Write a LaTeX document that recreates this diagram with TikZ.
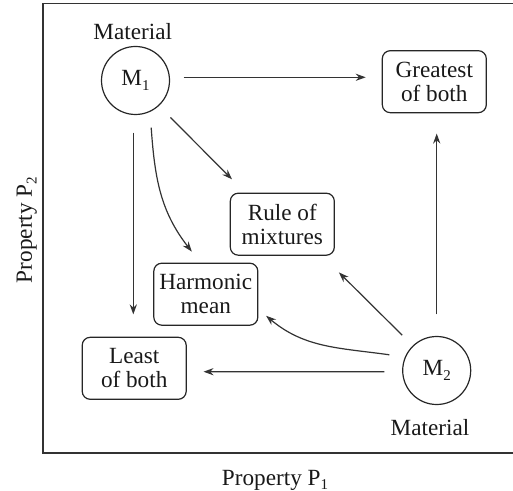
\documentclass[tikz,border=0pt]{standalone}
\usepackage{fontspec}
\setmainfont{Liberation Serif}
\usetikzlibrary{arrows.meta}
\newcommand{\sbs}[1]{\raisebox{-2.3pt}{\fontsize{7.5}{7.5}\selectfont #1}}
\begin{document}
\begin{tikzpicture}[x=0.5pt,y=-0.5pt,
  every node/.style={font=\fontsize{11.6}{12.2}\selectfont, text=black!90},
  mat/.style={circle, draw=black!85, line width=0.6pt, minimum size=34pt, inner sep=0pt},
  res/.style={draw=black!85, rounded corners=4pt, line width=0.6pt, minimum width=52pt, minimum height=31pt, align=center, inner sep=1pt},
  arr/.style={-{Stealth[length=5pt,width=3.6pt]}, line width=0.6pt, draw=black!80},
  lbl/.style={anchor=base}]
\useasboundingbox (0,0) rectangle (513,491);
\draw[line width=0.75pt, black!80] (514,3.5) -- (43,3.5) -- (43,453) -- (514,453);
\node[mat] (m1) at (135.5,80.5) {M\sbs{1}};
\node[mat] (m2) at (436.7,370.5) {M\sbs{2}};
\node[res] (great) at (434.3,81.7) {Greatest\\of both};
\node[res] (rule) at (282.3,224.2) {Rule of\\mixtures};
\node[res] (harm) at (205.8,294.2) {Harmonic\\mean};
\node[res] (least) at (134.2,368.3) {Least\\of both};
\node[lbl] (mat1) at (132.7,40) {Material};
\node[lbl] (mat2) at (430,435) {Material};
\node[lbl] (px) at (275,485) {Property P\sbs{1}};
\node[lbl, rotate=90] (py) at (32,230) {Property P\sbs{2}};
\draw[arr] ([xshift=6.75pt,yshift=1.6pt]m1.east) -- ([xshift=-8pt,yshift=2.2pt]great.west);
\draw[arr] ([xshift=-1.1pt,yshift=-8.75pt]m1.south) -- ([xshift=-0.45pt,yshift=11.15pt]least.north);
\draw[arr] ([xshift=5.25pt,yshift=-6.25pt]m1.-45) -- ([xshift=1.15pt,yshift=6.65pt]rule.north west);
\draw[arr] ([xshift=2.5pt,yshift=-7.1pt]m1.-72) to[out=-86,in=128] ([xshift=-7pt,yshift=5.5pt]harm.north);
\draw[arr] ([yshift=10.75pt]m2.north) -- ([xshift=1.2pt,yshift=-10.15pt]great.south);
\draw[arr] ([xshift=-5pt,yshift=5.4pt]m2.135) -- ([xshift=2pt,yshift=-8.3pt]rule.south east);
\draw[arr] ([xshift=-7.2pt,yshift=2.5pt]m2.162) to[out=172,in=-40] ([xshift=3.85pt,yshift=5pt]harm.south east);
\draw[arr] ([xshift=-8.85pt,yshift=-0.6pt]m2.west) -- ([xshift=8.35pt,yshift=-1.7pt]least.east);
\end{tikzpicture}
\end{document}
